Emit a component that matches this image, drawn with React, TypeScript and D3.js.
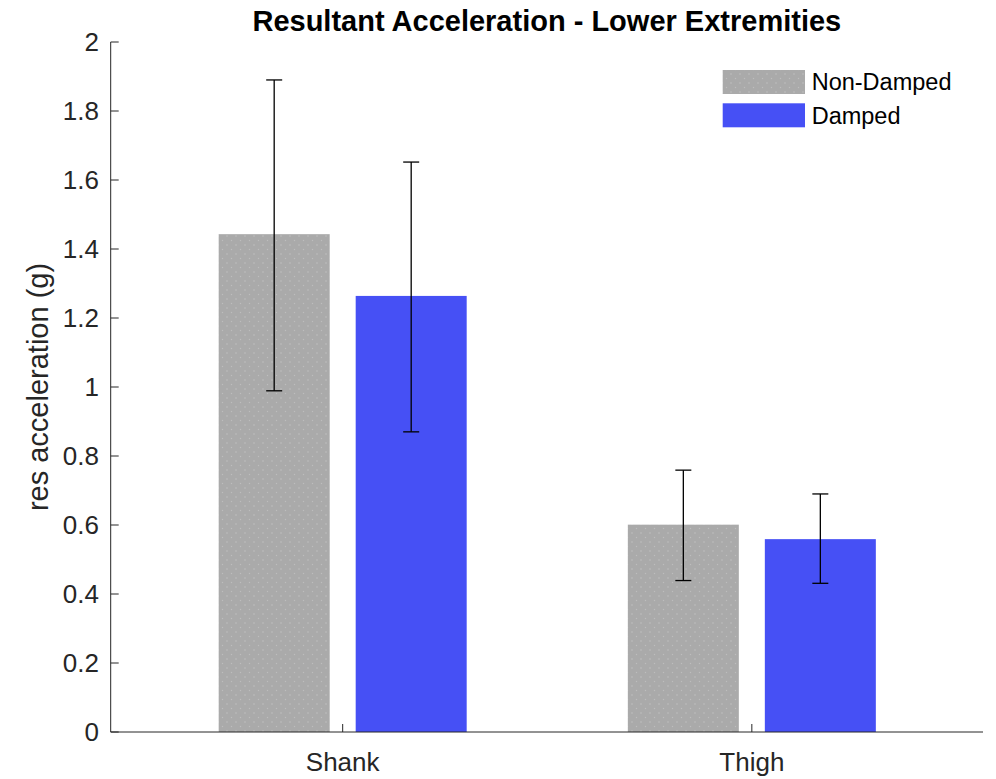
import React from "react";
import * as d3 from "d3";

const categories = ["Shank", "Thigh"];
const seriesNames = ["Non-Damped", "Damped"];
const nonDamped = [1.443, 0.601];
const damped = [1.264, 0.559];
const nonDampedLow = [0.989, 0.439];
const nonDampedHigh = [1.89, 0.759];
const dampedLow = [0.87, 0.431];
const dampedHigh = [1.652, 0.69];
const yTicks = [0, 0.2, 0.4, 0.6, 0.8, 1, 1.2, 1.4, 1.6, 1.8, 2];

const W = 996;
const H = 779;
const FONT = "'Liberation Sans', Arial, Helvetica, sans-serif";
const colors = ["#aaaaaa", "#4650f5"];

export default function App() {
  const x = d3.scaleLinear().domain([0.433, 2.565]).range([110.7, 983]);
  const y = d3.scaleLinear().domain([0, 2]).range([732, 42]);
  const barW = 111;
  const offset = 68.5;
  const series = [
    { name: seriesNames[0], vals: nonDamped, lo: nonDampedLow, hi: nonDampedHigh, color: colors[0], off: -offset },
    { name: seriesNames[1], vals: damped, lo: dampedLow, hi: dampedHigh, color: colors[1], off: offset },
  ];
  const axisColor = "#262626";
  return (
    <svg width={W} height={H} style={{ position: "absolute", left: 0, top: 0, background: "#fff" }} xmlns="http://www.w3.org/2000/svg">
      <defs>
        <pattern id="dots" width="9" height="9" patternUnits="userSpaceOnUse">
          <rect width="9" height="9" fill={colors[0]} />
          <circle cx="2" cy="2" r="0.7" fill="#c4c4c4" />
          <circle cx="6.5" cy="6.5" r="0.7" fill="#bdbdbd" />
        </pattern>
      </defs>
      <rect width={W} height={H} fill="#fff" />
      {series.map((s, si) =>
        categories.map((c, ci) => {
          const cx = x(ci + 1) + s.off;
          return (
            <rect
              key={`b${si}${ci}`}
              x={cx - barW / 2}
              y={y(s.vals[ci])}
              width={barW}
              height={y(0) - y(s.vals[ci])}
              fill={si === 0 ? "url(#dots)" : s.color}
            />
          );
        })
      )}
      {series.map((s, si) =>
        categories.map((c, ci) => {
          const cx = x(ci + 1) + s.off;
          return (
            <g key={`e${si}${ci}`} stroke="#000" strokeWidth={1.3}>
              <line x1={cx} x2={cx} y1={y(s.lo[ci])} y2={y(s.hi[ci])} />
              <line x1={cx - 8} x2={cx + 8} y1={y(s.lo[ci])} y2={y(s.lo[ci])} />
              <line x1={cx - 8} x2={cx + 8} y1={y(s.hi[ci])} y2={y(s.hi[ci])} />
            </g>
          );
        })
      )}
      {/* axes */}
      <line x1={110.7} x2={110.7} y1={42} y2={732} stroke={axisColor} strokeWidth={1} />
      <line x1={110.7} x2={983} y1={732} y2={732} stroke={axisColor} strokeWidth={1} />
      {yTicks.map((t) => (
        <g key={t}>
          <line x1={110.7} x2={118.7} y1={y(t)} y2={y(t)} stroke={axisColor} />
          <text x={99} y={y(t)} dy="0.36em" textAnchor="end" fontFamily={FONT} fontSize={26} fill={axisColor}>
            {d3.format("~g")(t)}
          </text>
        </g>
      ))}
      {categories.map((c, ci) => (
        <g key={c}>
          <line x1={x(ci + 1)} x2={x(ci + 1)} y1={732} y2={724} stroke={axisColor} />
          <text x={x(ci + 1)} y={771} textAnchor="middle" fontFamily={FONT} fontSize={26} fill={axisColor}>
            {c}
          </text>
        </g>
      ))}
      <text
        transform={`translate(48, ${(42 + 732) / 2}) rotate(-90)`}
        textAnchor="middle"
        fontFamily={FONT}
        fontSize={29}
        fill={axisColor}
      >
        res acceleration (g)
      </text>
      <text x={(110.7 + 983) / 2} y={31} textAnchor="middle" fontFamily={FONT} fontSize={29} fontWeight="bold" fill="#000">
        Resultant Acceleration - Lower Extremities
      </text>
      {/* legend */}
      {series.map((s, si) => (
        <g key={`l${si}`}>
          <rect x={722.7} y={70 + si * 33.3} width={82.3} height={24} fill={si === 0 ? "url(#dots)" : s.color} />
          <text x={811.7} y={82 + si * 33.3} dy="0.36em" fontFamily={FONT} fontSize={23.5} fill="#000">
            {s.name}
          </text>
        </g>
      ))}
    </svg>
  );
}
